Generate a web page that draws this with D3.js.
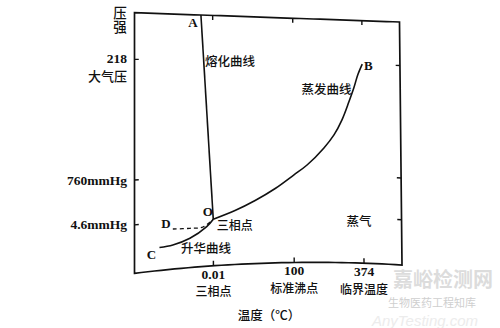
<!DOCTYPE html>
<html><head><meta charset="utf-8">
<script src="https://cdn.jsdelivr.net/npm/d3@7/dist/d3.min.js"></script>
<style>body{margin:0;background:#fff;} svg{display:block;}</style>
</head><body>
<svg id="c" width="500" height="328"></svg>
<script>
// ---------- data (schematic phase diagram of water) ----------
const tempTicks      = [0.01, 100, 374];                 // °C
const tempTickLabels = ["0.01", "100", "374"];
const tempTickNotes  = ["三相点", "标准沸点", "临界温度"];
const pressTicks      = [4.6, 760, 165680];              // mmHg (218 atm)
const pressTickLabels = ["4.6mmHg", "760mmHg", "218"];
const pressTickNotes  = ["", "", "大气压"];

// melting curve  A -> O
const meltT = [-4.5, 0.01];
const meltP = [200000, 4.6];
// vaporization curve  O -> B
const vapT = [0.01, 27, 52, 77, 100, 153, 220, 260, 292, 320, 340, 356, 374];
const vapP = [4.6, 142, 310, 519, 760, 15600, 41000, 60400, 82800, 109600, 130400, 149800, 165680];
// sublimation curve  C -> O
const subT = [-20.5, -15.4, -8.9, -2.5, 0.01];
const subP = [2.21, 2.34, 2.86, 3.90, 4.6];
// supercooled water (dashed)  D -> O
const supT = [-15.4, -8.9, -3.9, 0.01];
const supP = [3.89, 3.84, 3.89, 4.6];

// ---------- layout ----------
const svg = d3.select("#c");
const L = 134.5, Wb = 267.5, Wt = 265;
function proj(u, v) {           // slightly distorted frame of the scanned figure
  const yb = 273.3 - 32.6 * u + 24.3 * u * u;
  const yt = 12.7 + 9.3 * u;
  return [L + u * (Wb + (Wt - Wb) * v), yb + (yt - yb) * v];
}
const x = d3.scaleLinear().domain([-30, 0.01, 100, 374, 450]).range([0, 0.295, 0.597, 0.858, 1]);
const y = d3.scaleLinear().domain([0, 4.6, 760, 165680, 200000]).range([0, 0.186, 0.358, 0.821, 1]);
const P = (t, p) => proj(x(t), y(p));

const ink = "#111";
const serif = "'Liberation Serif','Times New Roman',serif";
const cjk = "'Noto Sans CJK SC','Noto Sans CJK JP',sans-serif";

// watermark (faint)
svg.append("text").attr("x", 443).attr("y", 278).attr("text-anchor", "middle")
  .attr("dominant-baseline", "central").attr("font-family", cjk).attr("font-weight", 700)
  .attr("font-size", 20).attr("fill", "#dcdcdc").text("嘉峪检测网");
svg.append("text").attr("x", 432).attr("y", 302).attr("text-anchor", "middle")
  .attr("dominant-baseline", "central").attr("font-family", cjk)
  .attr("font-size", 11).attr("fill", "#cfcfcf").text("生物医药工程知库");
svg.append("text").attr("x", 425).attr("y", 320).attr("text-anchor", "middle")
  .attr("dominant-baseline", "central").attr("font-family", "'Liberation Sans',sans-serif")
  .attr("font-style", "italic").attr("font-size", 15).attr("fill", "#ececec").text("AnyTesting.com");

// frame
const N = 40, edge = [];
for (let i = 0; i <= N; i++) edge.push(proj(i / N, 0));
for (let i = 1; i <= N; i++) edge.push(proj(1, i / N));
for (let i = N - 1; i >= 0; i--) edge.push(proj(i / N, 1));
svg.append("path").attr("d", d3.line()(edge) + "Z")
  .attr("fill", "none").attr("stroke", ink).attr("stroke-width", 1.7).attr("stroke-linejoin", "miter");

// ticks
const tk = svg.append("g").attr("stroke", ink).attr("stroke-width", 1.4);
pressTicks.forEach(p => {
  const v = y(p);
  tk.append("path").attr("d", d3.line()([proj(0, v), proj(0.016, v)]));
  tk.append("path").attr("d", d3.line()([proj(1, v), proj(0.984, v)]));
});
tempTicks.forEach(t => {
  const u = x(t);
  tk.append("path").attr("d", d3.line()([proj(u, 0), proj(u, 0.02)]));
  tk.append("path").attr("d", d3.line()([proj(u, 1), proj(u, 0.982)]));
});

// text helper
function txt(px, py, s, opt = {}) {
  return svg.append("text").attr("x", px).attr("y", py)
    .attr("text-anchor", opt.anchor || "start").attr("dominant-baseline", "central")
    .attr("font-family", opt.font || cjk).attr("font-weight", opt.weight || 700)
    .attr("font-size", opt.size || 12.5).attr("fill", ink).text(s);
}
// pressure tick labels
pressTicks.forEach((p, i) => {
  const [px, py] = proj(0, y(p));
  const hasNote = !!pressTickNotes[i];
  txt(px - 7.5, py - (hasNote ? 1 : 0), pressTickLabels[i], {anchor: "end", font: serif, size: 13.5});
  if (hasNote) txt(px - 7.5, py + 16.5, pressTickNotes[i], {anchor: "end", size: 13, weight: 500});
});
tempTicks.forEach((t, i) => {
  const [px, py] = proj(x(t), 0);
  txt(px, py + 8.5, tempTickLabels[i], {anchor: "middle", font: serif, size: 13.5});
  txt(px, py + 25, tempTickNotes[i], {anchor: "middle", size: 12, weight: 500});
});
// axis titles
svg.append("text").attr("x", 120).attr("y", 6.5).attr("writing-mode", "tb")
  .attr("glyph-orientation-vertical", 0).attr("letter-spacing", 0.5)
  .attr("font-family", cjk).attr("font-weight", 500).attr("font-size", 13.5)
  .attr("fill", ink).text("压强");
txt(269, 314, "温度（℃）", {anchor: "middle", size: 12.5, weight: 500});

// curves
const smooth = d3.line().curve(d3.curveCatmullRom.alpha(0.5));
const straight = d3.line();
const pts = (T, Pp) => T.map((t, i) => P(t, Pp[i]));
svg.append("path").attr("d", straight(pts(meltT, meltP)))
  .attr("fill", "none").attr("stroke", ink).attr("stroke-width", 1.6);
svg.append("path").attr("d", smooth(pts(vapT, vapP)))
  .attr("fill", "none").attr("stroke", ink).attr("stroke-width", 1.6);
svg.append("path").attr("d", smooth(pts(subT, subP)))
  .attr("fill", "none").attr("stroke", ink).attr("stroke-width", 1.6);
svg.append("path").attr("d", smooth(pts(supT, supP)))
  .attr("fill", "none").attr("stroke", ink).attr("stroke-width", 1.3).attr("stroke-dasharray", "4,3");

// point letters
const A = P(meltT[0], meltP[0]);
const B = P(vapT[vapT.length - 1], vapP[vapP.length - 1]);
const C = P(subT[0], subP[0]);
const D = P(supT[0], supP[0]);
const O = P(0.01, 4.6);
txt(A[0] - 8, A[1] + 7, "A", {anchor: "middle", font: serif, size: 13});
txt(B[0] + 6, B[1] + 1.5, "B", {anchor: "middle", font: serif, size: 13});
txt(C[0] - 8, C[1] + 7, "C", {anchor: "middle", font: serif, size: 13});
txt(D[0] - 7, D[1] - 5.5, "D", {anchor: "middle", font: serif, size: 13});
txt(O[0] - 5.5, O[1] - 7.5, "O", {anchor: "middle", font: serif, size: 13});
txt(O[0] + 3.5, O[1] + 5.5, "三相点", {size: 12, weight: 500});

// region / curve names
txt(205, 60, "熔化曲线", {size: 12.5, weight: 500});
txt(301.5, 88, "蒸发曲线", {size: 12.5, weight: 500});
txt(181, 247.5, "升华曲线", {size: 12.5, weight: 500});
txt(346.5, 220, "蒸气", {size: 12.5, weight: 500});
</script>
</body></html>
